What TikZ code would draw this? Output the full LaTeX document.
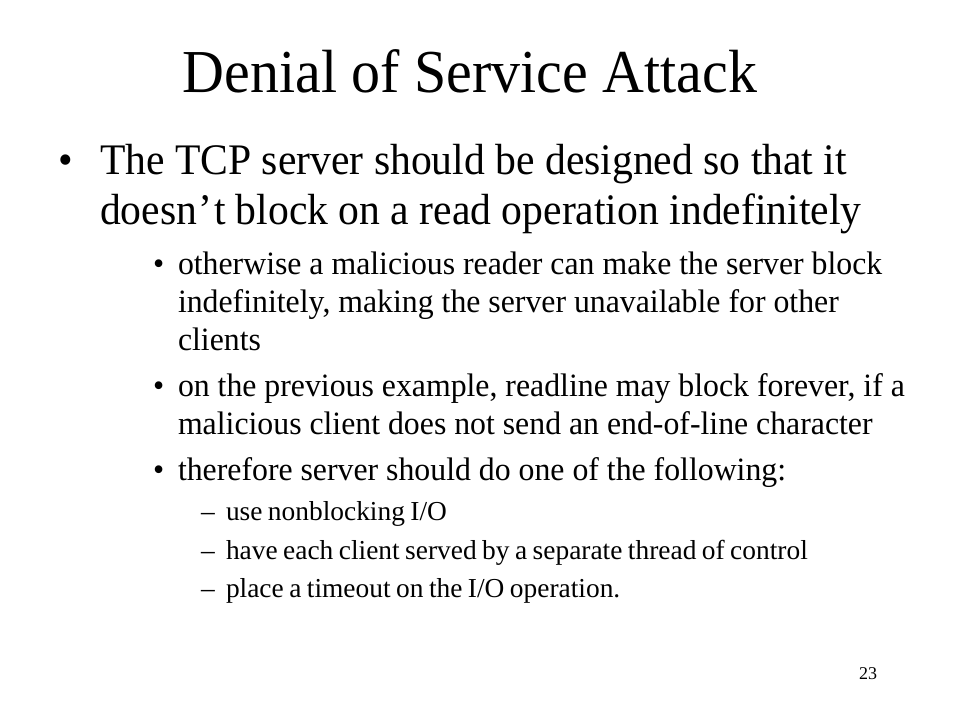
\documentclass[tikz,border=0pt]{standalone}
\usepackage{fontspec}
\setmainfont{Liberation Serif}
\newfontfamily\titlefam[FakeStretch=0.95]{Liberation Serif}
\newfontfamily\onefam[FakeStretch=0.955]{Liberation Serif}
\newfontfamily\twofam[FakeStretch=0.975]{Liberation Serif}
\newcommand\tightsp{\spaceskip=0.2em plus 0.05em\relax}
\begin{document}
\begin{tikzpicture}[x=1pt,y=-1pt,
  txt/.style={anchor=base west,inner sep=0pt,outer sep=0pt},
  title/.style={anchor=base,inner sep=0pt,font=\titlefam\fontsize{61}{66}\selectfont},
  lone/.style={txt,font=\onefam\fontsize{43.6}{48}\selectfont},
  ltwo/.style={txt,font=\twofam\fontsize{32.6}{36}\selectfont},
  lthree/.style={txt,font=\fontsize{27.4}{30}\selectfont\tightsp},
  pnum/.style={txt,font=\fontsize{18}{20}\selectfont}]
\useasboundingbox[fill=white] (0,0) rectangle (960,720);
\node[title] (t) at (470,92) {Denial of Service Attack};
% level 1
\node[lone] (b1) at (58,174) {•};
\node[lone] (a1) at (100,174) {The TCP server should be designed so that it};
\node[lone] (a2) at (100,224) {doesn\kern1.5pt’\kern1.5pt t block on a read operation indefinitely};
% level 2
\node[ltwo] (b2) at (153,274) {•};
\node[ltwo] (c1) at (178,274) {otherwise a malicious reader can make the server block};
\node[ltwo] (c2) at (178,312) {indefinitely, making the server unavailable for other};
\node[ltwo] (c3) at (178,350) {clients};
\node[ltwo] (b3) at (153,396) {•};
\node[ltwo] (d1) at (178,396) {on the previous example, readline may block forever, if a};
\node[ltwo] (d2) at (178,434) {malicious client does not send an end-of-line character};
\node[ltwo] (b4) at (153,480) {•};
\node[ltwo] (e1) at (178,480) {therefore server should do one of the following:};
% level 3
\node[lthree] (m1) at (201,520) {–};
\node[lthree] (f1) at (226,520) {use nonblocking I/O};
\node[lthree] (m2) at (201,559) {–};
\node[lthree] (f2) at (226,559) {have each client served by a separate thread of control};
\node[lthree] (m3) at (201,597) {–};
\node[lthree] (f3) at (226,597) {place a timeout on the I/O operation.};
\node[pnum] (p) at (859,679) {23};
\end{tikzpicture}
\end{document}
